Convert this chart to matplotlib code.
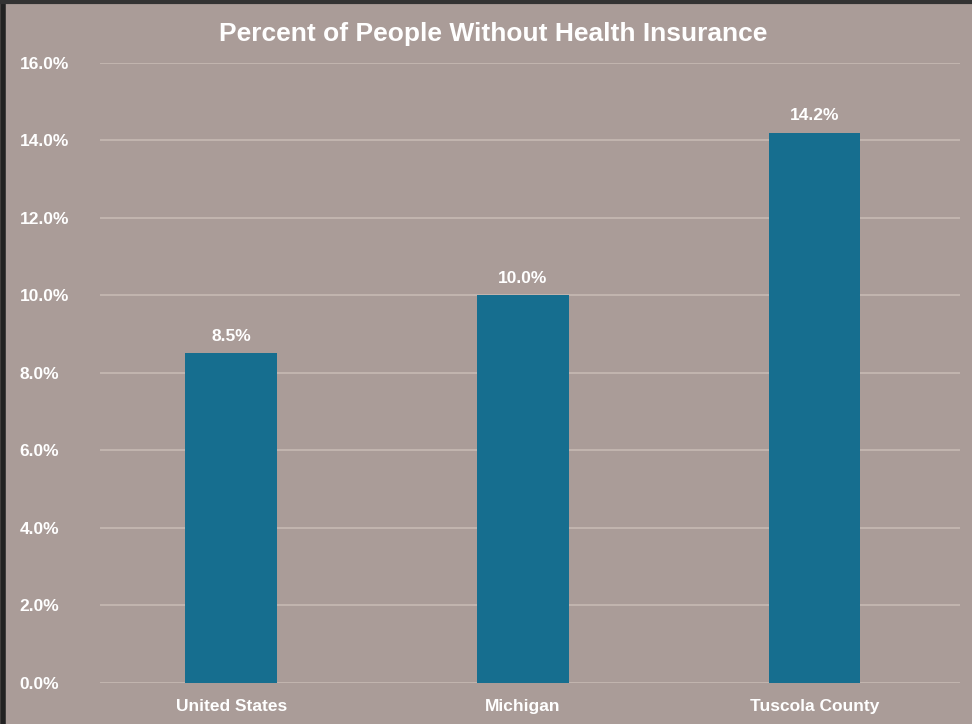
import matplotlib.pyplot as plt
from matplotlib.ticker import FuncFormatter

plt.rcParams["font.family"] = ["Liberation Sans", "DejaVu Sans"]

categories = ["United States", "Michigan", "Tuscola County"]
uninsured_pct = [8.5, 10.0, 14.2]
y_ticks = [0, 2, 4, 6, 8, 10, 12, 14, 16]

BG = "#aa9c98"
BAR = "#166e8f"
GRID = "#c6bab3"

fig = plt.figure(figsize=(9.72, 7.24), dpi=100, facecolor=BG)
ax = fig.add_axes([0.103, 0.057, 0.885, 0.856], facecolor=BG)

x = range(len(categories))
bars = ax.bar(x, uninsured_pct, width=0.315, color=BAR, zorder=3)
for rect, v in zip(bars, uninsured_pct):
    ax.text(rect.get_x() + rect.get_width() / 2, v + 0.25, f"{v:.1f}%",
            ha="center", va="bottom", color="white", fontsize=12.5,
            fontweight="bold", zorder=4)

ax.set_xlim(-0.45, 2.5)
ax.set_ylim(0, 16)
ax.set_yticks(y_ticks)
ax.yaxis.set_major_formatter(FuncFormatter(lambda v, _: f"{v:.1f}%"))
ax.set_xticks(list(x))
ax.set_xticklabels(categories)
ax.tick_params(axis="both", length=0, colors="white", labelsize=12.5)
ax.tick_params(axis="y", pad=58)
ax.tick_params(axis="x", pad=12)
for lbl in ax.get_xticklabels() + ax.get_yticklabels():
    lbl.set_fontweight("bold")
for lbl in ax.get_yticklabels():
    lbl.set_horizontalalignment("left")

ax.grid(axis="y", color=GRID, linewidth=1.2, zorder=1)
for s in ax.spines.values():
    s.set_visible(False)

fig.suptitle("Percent of People Without Health Insurance", x=0.507, y=0.97,
             color="white", fontsize=19, fontweight="bold")

# dark scan border on left and top edges
fig.add_artist(plt.Line2D([0.003, 0.003], [0, 1], color="#222222", linewidth=4,
                          transform=fig.transFigure))
fig.add_artist(plt.Line2D([0, 1], [0.997, 0.997], color="#333333", linewidth=3,
                          transform=fig.transFigure))

fig.savefig("out.png", dpi=100, facecolor=BG)
